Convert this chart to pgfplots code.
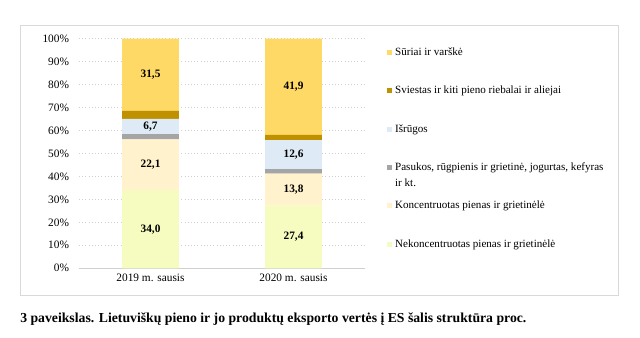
\documentclass[border=0pt]{standalone}
\usepackage{pgfplots}
\usepackage{pgfplotstable}
\pgfplotsset{compat=1.18}
\usepackage{fontspec}
\setmainfont{Liberation Serif}

\definecolor{cSuriai}{HTML}{FFD966}
\definecolor{cSviestas}{HTML}{BF9000}
\definecolor{cIsrugos}{HTML}{DEEBF7}
\definecolor{cPasukos}{HTML}{A5A5A5}
\definecolor{cKonc}{HTML}{FFF2CC}
\definecolor{cNekonc}{HTML}{F6FCC0}
\definecolor{cGrid}{HTML}{D0D0D0}
\definecolor{cFrame}{HTML}{D9D9D9}

% export value shares, % (January 2019 and January 2020)
\pgfplotstableread{
x nek  konc pas isr  svi sur
0 34.0 22.1 2.3 6.7  3.4 31.5
1 27.4 13.8 2.0 12.6 2.3 41.9
}\shares

\pgfplotsset{
  common/.style={
    at={(59.25pt,52.3pt)}, anchor=south west,
    scale only axis, width=214.5pt, height=172.2pt,
    xmin=-0.5, xmax=1.5, ymin=0, ymax=100,
  },
  midlabel/.style={
    draw=none, mark=none, point meta=explicit,
    nodes near coords={\pgfmathprintnumber[fixed,fixed zerofill,precision=1,use comma,assume math mode=true]{\pgfplotspointmeta}},
    nodes near coords align={center},
    every node near coord/.append style={
      font=\fontsize{8.5}{10}\selectfont\bfseries, text=black, anchor=center},
  },
}

\begin{document}
\begin{tikzpicture}
% page extent and the chart frame
\path[use as bounding box] (0pt,0pt) rectangle (480pt,253.5pt);
\draw[cFrame, line width=0.6pt] (15pt,32.25pt) rectangle (463.5pt,234.75pt);

\begin{axis}[
  common,
  ybar stacked, bar width=42.5pt,
  xtick=data, xticklabels={2019 m. sausis, 2020 m. sausis},
  ytick={0,10,...,100},
  yticklabel={\pgfmathprintnumber{\tick}\%},
  /pgf/number format/assume math mode=true,
  tick label style={font=\fontsize{8.5}{10}\selectfont, text=black},
  major tick length=0pt,
  ymajorgrids, grid style={cGrid, dotted, line width=0.5pt},
  axis lines*=left,
  x axis line style={cGrid, line width=0.6pt, -},
  y axis line style={draw=none},
  xticklabel style={yshift=-1pt},
  yticklabel style={xshift=-4pt},
  reverse legend,
  legend style={
    at={(1.077,0.975)}, anchor=north west, draw=none, fill=none,
    font=\fontsize{8.3}{12}\selectfont, row sep=17.6pt, column sep=0pt,
    cells={anchor=west, inner xsep=0.6pt}, inner sep=0pt,
  },
  legend image code/.code={\fill[#1,draw=none] (0pt,-1.9pt) rectangle (3.9pt,1.9pt);},
]
\addplot[fill=cNekonc, draw=none] table[x=x, y=nek] {\shares};
\addlegendentry{Nekoncentruotas pienas ir grietinėlė}
\addplot[fill=cKonc, draw=none] table[x=x, y=konc] {\shares};
\addlegendentry{Koncentruotas pienas ir grietinėlė}
\addplot[fill=cPasukos, draw=none] table[x=x, y=pas] {\shares};
\addlegendentry{\vphantom{Pj}\smash{\parbox[t]{220pt}{Pasukos, rūgpienis ir grietinė, jogurtas, kefyras\\ir kt.}}}
\addplot[fill=cIsrugos, draw=none] table[x=x, y=isr] {\shares};
\addlegendentry{Išrūgos}
\addplot[fill=cSviestas, draw=none] table[x=x, y=svi] {\shares};
\addlegendentry{Sviestas ir kiti pieno riebalai ir aliejai}
\addplot[fill=cSuriai, draw=none] table[x=x, y=sur] {\shares};
\addlegendentry{Sūriai ir varškė}
\end{axis}

% value labels in the middle of the segments they describe
\begin{axis}[common, hide axis]
\addplot[midlabel] table[x=x, y expr=\thisrow{nek}/2, meta=nek] {\shares};
\addplot[midlabel] table[x=x, y expr=\thisrow{nek}+\thisrow{konc}/2, meta=konc] {\shares};
\addplot[midlabel] table[x=x, y expr=\thisrow{nek}+\thisrow{konc}+\thisrow{pas}+\thisrow{isr}/2, meta=isr] {\shares};
\addplot[midlabel] table[x=x, y expr=100-\thisrow{sur}/2, meta=sur] {\shares};
\end{axis}

\node[anchor=west, inner sep=0pt, font=\fontsize{10.3}{12}\selectfont\bfseries]
  at (15pt,14.25pt) {3 paveikslas. Lietuviškų pieno ir jo produktų eksporto vertės į ES šalis struktūra proc.};
\end{tikzpicture}
\end{document}
